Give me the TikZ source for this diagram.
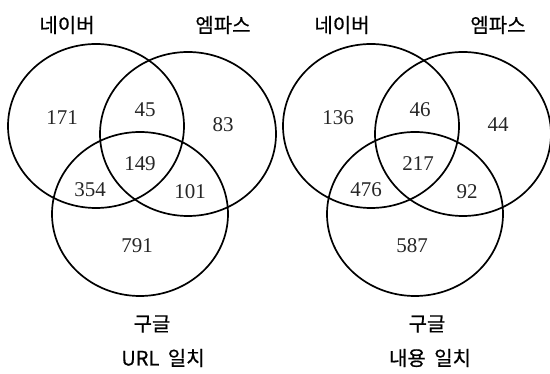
\documentclass[tikz,border=0pt]{standalone}
\usepackage{fontspec}
\setmainfont{Liberation Serif}
\newfontfamily\kr[FakeBold=0.6]{Noto Sans CJK KR}
\begin{document}
\begin{tikzpicture}[x=1pt,y=-1pt,
  setring/.style={line width=1.7pt},
  num/.style={font=\fontsize{21}{21}\selectfont, text=black!85, inner sep=0pt},
  lab/.style={font=\kr\fontsize{20}{20}\selectfont, inner sep=0pt}]
\useasboundingbox (0,0) rectangle (550,374);
% left diagram
\draw[setring] (96,126) ellipse [x radius=88, y radius=82];
\draw[setring] (188,134) ellipse [x radius=88, y radius=82];
\draw[setring] (140,214) ellipse [x radius=88, y radius=82];
\node[lab] (lnaver) at (67,25) {네이버};
\node[lab] (lempas) at (223,25) {엠파스};
\node[lab] (lgoogle) at (152,324) {구글};
\node[lab] (lcap) at (163,358) {URL\hspace{0.2em} 일치};
\node[num] (la) at (62,118) {171};
\node[num] (lb) at (145,110) {45};
\node[num] (lc) at (223,125) {83};
\node[num] (ld) at (140,164) {149};
\node[num] (le) at (90,190) {354};
\node[num] (lf) at (190,192) {101};
\node[num] (lg) at (137,246) {791};
% right diagram
\begin{scope}[xshift=275]
\draw[setring] (96,126) ellipse [x radius=88, y radius=82];
\draw[setring] (188,134) ellipse [x radius=88, y radius=82];
\draw[setring] (140,214) ellipse [x radius=88, y radius=82];
\node[lab] (rnaver) at (67,25) {네이버};
\node[lab] (rempas) at (223,25) {엠파스};
\node[lab] (rgoogle) at (152,324) {구글};
\node[lab] (rcap) at (155,358) {내용\hspace{0.2em} 일치};
\node[num] (ra) at (63,118) {136};
\node[num] (rb) at (145,110) {46};
\node[num] (rc) at (223,125) {44};
\node[num] (rd) at (143,164) {217};
\node[num] (re) at (91,190) {476};
\node[num] (rf) at (192,192) {92};
\node[num] (rg) at (137,246) {587};
\end{scope}
\end{tikzpicture}
\end{document}
